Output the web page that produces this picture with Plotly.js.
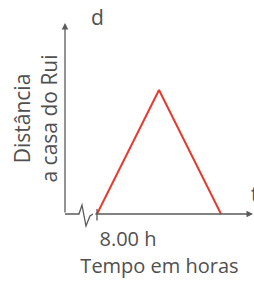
<!DOCTYPE html>
<html>
<head>
<meta charset="utf-8">
<script src="https://cdn.plot.ly/plotly-3.0.1.min.js"></script>
<style>html,body{margin:0;padding:0;background:#fff;}#chart{width:254px;height:283px;}</style>
</head>
<body>
<div id="chart"></div>
<script>
// Time (relative units after 8.00 h) and distance (relative units) – schematic trip
const times = [0, 1, 2];
const distances = [0, 1, 0];
const tickValues = [0];
const tickLabels = ['8.00 h'];
const xTitle = 'Tempo em horas';
const yTitle = 'Distância<br>a casa do Rui';
const yAxisLetter = 'd';
const xAxisLetter = 't';

const textColor = '#505050';
const axisColor = '#5a5a5a';
const fontFamily = '"Open Sans", sans-serif';

const trace = {
  x: times, y: distances, type: 'scatter', mode: 'lines',
  line: {color: '#e8392e', width: 2},
  hoverinfo: 'skip', cliponaxis: false
};

const layout = {
  width: 254, height: 283,
  margin: {l: 65, r: 0, t: 23, b: 69, pad: 0},
  paper_bgcolor: '#ffffff', plot_bgcolor: '#ffffff',
  showlegend: false,
  font: {family: fontFamily, color: textColor, size: 20},
  xaxis: {
    range: [-0.516, 2.532], showgrid: false, zeroline: false, showline: false,
    tickvals: tickValues, ticktext: tickLabels, ticks: '',
    ticklabelshift: 31, ticklabelstandoff: 11,
    tickfont: {family: fontFamily, size: 20, color: textColor},
    title: {text: xTitle, font: {family: fontFamily, size: 20, color: textColor}, standoff: 3},
    fixedrange: true
  },
  yaxis: {
    range: [0, 1.54], showgrid: false, zeroline: false, showline: false,
    showticklabels: false, ticks: '',
    title: {text: yTitle, font: {family: fontFamily, size: 21, color: textColor}, standoff: 0},
    fixedrange: true
  },
  shapes: [
    // left piece of x axis with the break (zigzag)
    {type: 'path', xref: 'paper', yref: 'paper',
     path: 'M 0 0 L 0.074 0 L 0.0899 0.047 L 0.111 -0.063 L 0.132 -0.01 L 0.148 0',
     line: {color: axisColor, width: 1.3}},
    // small tick at 8.00 h
    {type: 'line', xref: 'x', yref: 'paper', x0: 0, x1: 0, y0: -0.034, y1: 0.026,
     line: {color: axisColor, width: 1.3}}
  ],
  annotations: [
    // y axis with arrow
    {xref: 'paper', yref: 'paper', x: 0, y: 1, ax: 0, ay: 191, axref: 'pixel', ayref: 'pixel',
     showarrow: true, arrowhead: 2, arrowsize: 1, arrowwidth: 1.3, arrowcolor: axisColor, text: '', standoff: 0},
    // x axis with arrow
    {xref: 'paper', yref: 'paper', x: 1.01, y: 0, ax: -162, ay: 0,
     showarrow: true, arrowhead: 2, arrowsize: 1, arrowwidth: 1.3, arrowcolor: axisColor, text: '', standoff: 0},
    {xref: 'paper', yref: 'paper', x: 0, y: 1, xshift: 32, yshift: 6, xanchor: 'center', yanchor: 'middle',
     text: yAxisLetter, showarrow: false, font: {family: fontFamily, size: 21, color: textColor}},
    {xref: 'paper', yref: 'paper', x: 1, y: 0, xshift: -5, yshift: 4, xanchor: 'left', yanchor: 'bottom',
     text: xAxisLetter, showarrow: false, font: {family: fontFamily, size: 21, color: textColor}}
  ]
};

Plotly.newPlot('chart', [trace], layout, {staticPlot: true, displayModeBar: false});
</script>
</body>
</html>
